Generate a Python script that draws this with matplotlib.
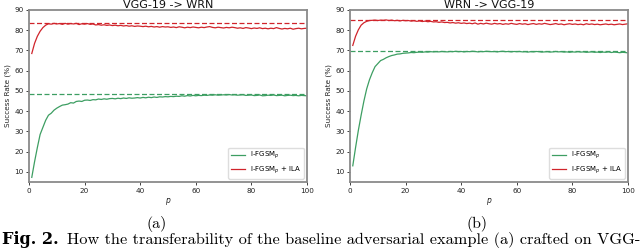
import matplotlib
matplotlib.use("Agg")
import matplotlib.pyplot as plt
import numpy as np

p = list(range(1, 101))

left_title = "VGG-19 -> WRN"
right_title = "WRN -> VGG-19"
legend_labels = ["I-FGSM$_p$", "I-FGSM$_p$ + ILA"]

left_base = [7.3, 15, 22, 28.5, 32, 35.5, 38, 39, 40.5, 41.5,
             42.3, 43, 43.2, 43.5, 44.2, 44, 44.8, 45, 44.8, 45.4,
             45.5, 45.3, 45.7, 45.6, 46.0, 45.8, 46.1, 45.9, 46.2, 46.3,
             46.1, 46.4, 46.2, 46.5, 46.3, 46.6, 46.4, 46.5, 46.7, 46.5,
             46.8, 46.6, 46.9, 46.7, 47.0, 46.8, 47.1, 47.0, 47.2, 47.1,
             47.3, 47.2, 47.4, 47.3, 47.6, 47.4, 47.7, 47.5, 47.8, 47.6,
             47.8, 47.7, 47.9, 47.8, 48.0, 47.9, 48.1, 47.9, 48.0, 48.1,
             48.0, 48.2, 48.0, 48.1, 47.9, 48.0, 48.1, 47.8, 47.9, 48.0,
             47.7, 47.8, 48.0, 47.6, 47.7, 47.9, 47.8, 48.0, 47.7, 47.8,
             47.9, 47.6, 47.8, 47.9, 47.7, 47.8, 47.6, 47.8, 47.7, 47.6]
left_ila = [68.5, 73.5, 77, 79.5, 81.3, 82.5, 83.2, 83.0, 83.4, 83.1,
            83.3, 82.9, 83.4, 83.0, 83.3, 83.1, 83.4, 82.8, 83.2, 83.0,
            83.3, 82.9, 83.1, 82.6, 82.8, 82.5, 82.7, 82.4, 82.6, 82.3,
            82.5, 82.2, 82.4, 82.1, 82.3, 82.0, 82.2, 81.9, 82.1, 82.0,
            81.8, 82.0, 81.7, 81.9, 81.6, 81.8, 81.5, 81.8, 81.6, 81.7,
            81.4, 81.6, 81.3, 81.7, 81.5, 81.2, 81.5, 81.3, 81.6, 81.4,
            81.2, 81.5, 81.3, 81.6, 81.8, 81.4, 81.2, 81.5, 81.3, 81.1,
            81.4, 81.2, 81.5, 81.3, 81.0, 81.2, 80.9, 81.3, 81.1, 80.8,
            81.1, 80.9, 81.2, 80.8, 81.0, 80.7, 81.0, 80.8, 81.3, 80.9,
            80.6, 80.9, 80.7, 81.0, 80.5, 80.8, 81.0, 80.7, 80.9, 81.0]
left_base_ref = 48.3
left_ila_ref = 83.4

right_base = [13, 22, 30.5, 38, 45, 51, 55.5, 59, 62, 63.5,
              65.0, 65.6, 66.4, 67.0, 67.5, 67.8, 68.2, 68.3, 68.6, 68.7,
              68.8, 69.0, 68.9, 69.1, 69.2, 69.1, 69.3, 69.2, 69.4, 69.3,
              69.4, 69.3, 69.5, 69.4, 69.3, 69.5, 69.4, 69.6, 69.4, 69.5,
              69.3, 69.5, 69.4, 69.6, 69.5, 69.3, 69.5, 69.4, 69.6, 69.5,
              69.4, 69.5, 69.3, 69.5, 69.6, 69.4, 69.5, 69.3, 69.5, 69.4,
              69.5, 69.3, 69.4, 69.2, 69.4, 69.3, 69.5, 69.4, 69.2, 69.3,
              69.4, 69.2, 69.3, 69.5, 69.3, 69.4, 69.2, 69.3, 69.1, 69.3,
              69.2, 69.4, 69.2, 69.3, 69.1, 69.2, 69.3, 69.1, 69.2, 69.0,
              69.2, 69.1, 69.3, 69.0, 69.2, 69.1, 68.9, 69.1, 69.0, 68.8]
right_ila = [72.5, 77, 80.2, 82.5, 83.7, 84.4, 84.8, 84.9, 85.0, 84.8,
             85.0, 84.9, 85.1, 84.8, 85.0, 84.7, 84.9, 84.6, 84.9, 84.7,
             84.8, 84.5, 84.7, 84.4, 84.6, 84.3, 84.5, 84.2, 84.4, 84.1,
             84.2, 83.9, 84.1, 83.8, 83.9, 83.6, 83.8, 83.5, 83.7, 83.4,
             83.6, 83.3, 83.5, 83.2, 83.6, 83.0, 83.4, 83.1, 83.5, 83.2,
             83.0, 83.4, 83.1, 83.3, 82.9, 83.2, 83.0, 83.4, 83.1, 82.9,
             83.3, 83.0, 83.2, 82.8, 83.1, 83.3, 82.9, 83.2, 83.0, 83.4,
             83.1, 82.8, 83.0, 83.3, 82.9, 83.1, 82.7, 83.0, 83.2, 82.9,
             83.1, 82.8, 83.0, 82.7, 83.2, 82.9, 83.1, 82.8, 83.0, 82.7,
             82.9, 83.1, 82.8, 83.0, 82.7, 82.9, 83.1, 82.8, 83.0, 83.2]
right_base_ref = 69.7
right_ila_ref = 85.1

xticks = [0, 20, 40, 60, 80, 100]
yticks = [10, 20, 30, 40, 50, 60, 70, 80, 90]

GREEN = "#3d9e62"
RED = "#d0242b"

fig = plt.figure(figsize=(6.4, 2.48), dpi=100)
W, H = 640, 248

def axes_px(x0, y0, x1, y1):
    return fig.add_axes([x0 / W, 1 - y1 / H, (x1 - x0) / W, (y1 - y0) / H])

panels = [
    (axes_px(29, 10, 307, 182), left_title, left_base, left_ila, left_base_ref, left_ila_ref),
    (axes_px(350, 10, 628, 182), right_title, right_base, right_ila, right_base_ref, right_ila_ref),
]

for ax, title, base, ila, bref, iref in panels:
    ax.plot(p, base, color=GREEN, lw=0.9, label=legend_labels[0])
    ax.plot(p, ila, color=RED, lw=0.9, label=legend_labels[1])
    ax.axhline(bref, color=GREEN, lw=0.9, ls=(0, (4, 2)))
    ax.axhline(iref, color=RED, lw=0.9, ls=(0, (4, 2)))
    ax.set_xlim(0, 100)
    ax.set_ylim(5, 90)
    ax.set_xticks(xticks)
    ax.set_yticks(yticks)
    ax.tick_params(labelsize=5.2, length=2.5, width=0.6, pad=1.5, colors="#222222")
    for s in ax.spines.values():
        s.set_color("#8a8a8a")
        s.set_linewidth(1.3)
    ax.set_title(title, fontsize=8.0, pad=1.6, color="#111111")
    ax.set_ylabel("Success Rate (%)", fontsize=5.2, labelpad=2, color="#222222")
    ax.set_xlabel("$p$", fontsize=5.5, labelpad=2, color="#222222")
    ax.legend(loc="lower right", fontsize=5, frameon=True, handlelength=2.0,
              borderpad=0.35, labelspacing=0.45, handletextpad=0.8,
              borderaxespad=0.5, framealpha=1, edgecolor="#dddddd")

fig.text(157 / W, 1 - 224 / H, "(a)", fontsize=11.5, family="cmr10", ha="center", va="center")
fig.text(477 / W, 1 - 224 / H, "(b)", fontsize=11.5, family="cmr10", ha="center", va="center")
fig.text(2 / W, 1 - 240 / H, "Fig. 2.", fontsize=11.6, family="DejaVu Serif", weight="bold",
         ha="left", va="center")
fig.text(67 / W, 1 - 240 / H, "How the transferability of the baseline adversarial example (a) crafted on VGG-",
         fontsize=11.75, family="cmr10", ha="left", va="center")

fig.savefig("out.png", dpi=100)
